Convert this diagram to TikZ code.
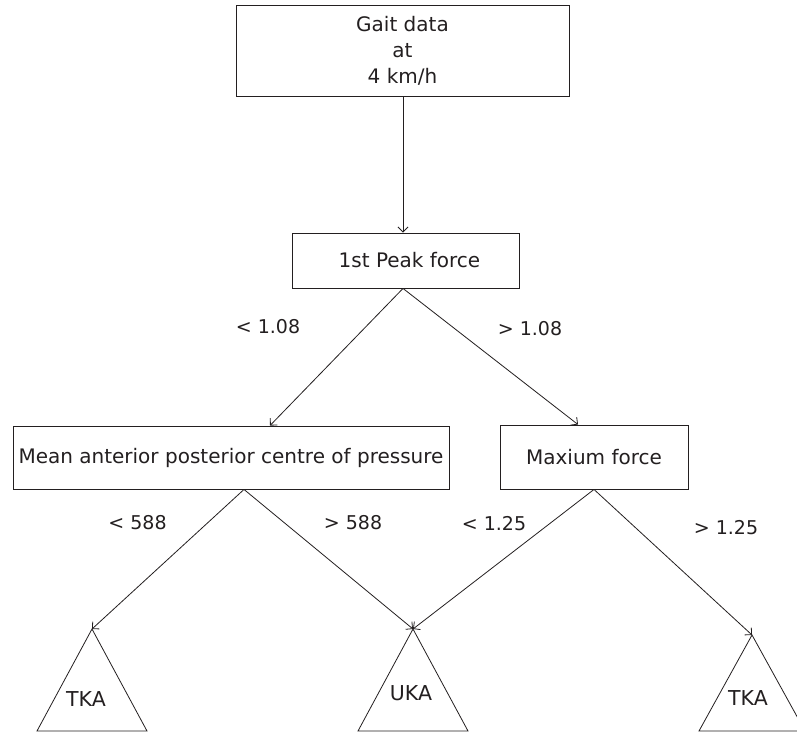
\documentclass[tikz,border=0pt]{standalone}
\usepackage{fontspec}
\setmainfont{DejaVu Sans}
\usetikzlibrary{arrows.meta,calc}
\definecolor{ink}{HTML}{231F20}
\tikzset{
  box/.style={draw=ink, line width=0.9pt, rectangle, inner sep=0pt, align=center, text=ink,
    font=\fontsize{20}{26}\selectfont},
  lbl/.style={text=ink, inner sep=0pt, font=\fontsize{19}{22}\selectfont},
  tlbl/.style={text=ink, inner sep=0pt, font=\fontsize{20.5}{24}\selectfont},
  conn/.style={draw=ink, line width=0.8pt, -{Straight Barb[length=5pt,width=10pt,line width=0.8pt]}},
  tri/.style={draw=ink, line width=0.8pt, line join=miter}
}
\begin{document}
\begin{tikzpicture}[x=1pt,y=-1pt]
\useasboundingbox (0,0) rectangle (797,733);
\clip (0,0) rectangle (797,733);
\node[box, minimum width=333pt, minimum height=91pt] (top) at (402.5,50.5) {Gait data\\at\\4 km/h};
\node[box, minimum width=227pt, minimum height=55pt] (peak) at (405.5,260.5) {\hspace{8pt}1st Peak force};
\node[box, minimum width=436pt, minimum height=63pt] (mean) at (231,457.5) {Mean anterior posterior centre of pressure};
\node[box, minimum width=188pt, minimum height=64pt] (maxf) at (594,457) {Maxium force};
\coordinate (tkaA) at (92,629);
\coordinate (ukaA) at (413,629);
\coordinate (tkbA) at (752,635);
\draw[tri] (tkaA) -- ++(55,102) -- ++(-110,0) -- cycle;
\draw[tri] (ukaA) -- ++(55,102) -- ++(-110,0) -- cycle;
\draw[tri] (tkbA) -- ++(53,96) -- ++(-106,0) -- cycle;
\node[tlbl] (tka1) at (86,699) {TKA};
\node[tlbl] (uka) at (411,693) {UKA};
\node[tlbl] (tka2) at (748,698) {TKA};
\draw[conn] ([xshift=0.5pt]top.south) -- ([xshift=-2.5pt]peak.north);
\draw[conn] ([xshift=-2.5pt]peak.south) -- ([xshift=39pt]mean.north);
\draw[conn] ([xshift=-2.5pt]peak.south) -- ([xshift=-16pt]maxf.north);
\draw[conn] ([xshift=13pt]mean.south) -- (tkaA);
\draw[conn] ([xshift=13pt]mean.south) -- (ukaA);
\draw[conn] (maxf.south) -- (ukaA);
\draw[conn] (maxf.south) -- (tkbA);
\node[lbl] (l1) at (268,327) {< 1.08};
\node[lbl] (l2) at (530,329) {> 1.08};
\node[lbl] (l3) at (137.5,523) {< 588};
\node[lbl] (l4) at (353,523) {> 588};
\node[lbl] (l5) at (494,524) {< 1.25};
\node[lbl] (l6) at (726,528) {> 1.25};
\end{tikzpicture}
\end{document}
